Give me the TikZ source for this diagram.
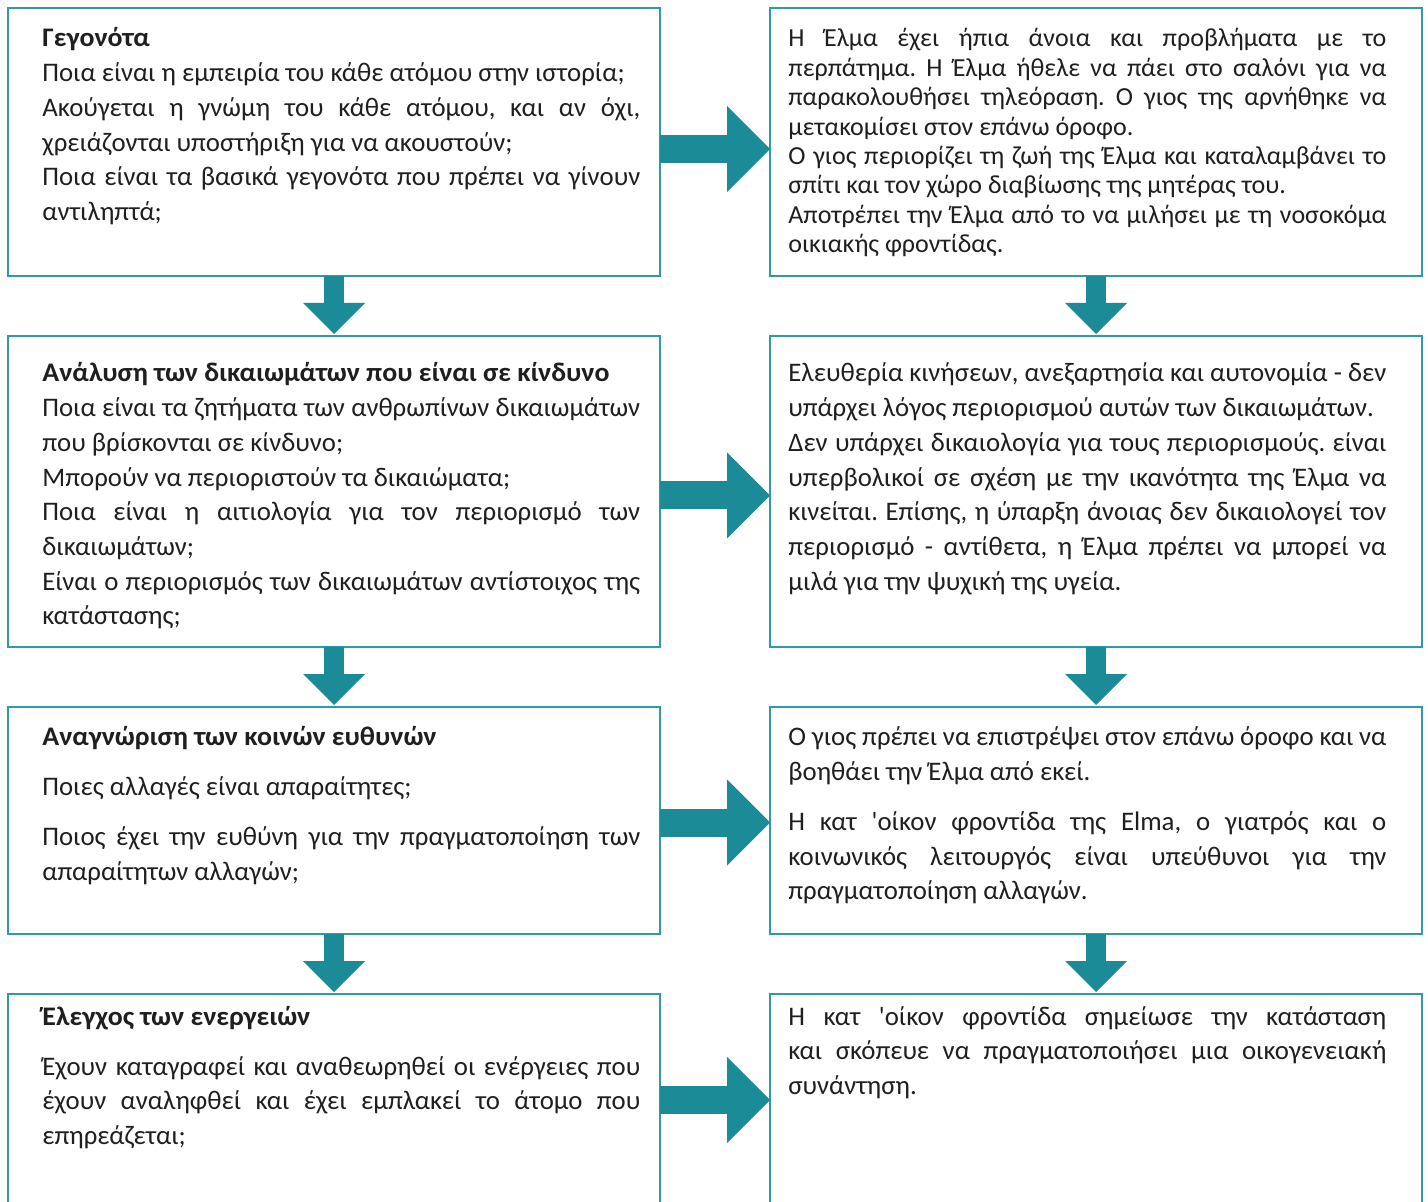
\documentclass[tikz,border=0pt]{standalone}
\usepackage{fontspec}
\setmainfont[BoldFeatures={FakeStretch=1.04}]{Carlito}
\usepackage{xcolor}
\usepackage{tikz}
\usetikzlibrary{positioning,arrows.meta}

\definecolor{flowteal}{HTML}{1B8B98}
\definecolor{frameteal}{HTML}{2E9BA8}
\hyphenpenalty=10000
\exhyphenpenalty=10000
\frenchspacing

\begin{document}
\begin{tikzpicture}[
    node distance=30pt and 55pt,
    box/.style={draw=frameteal, line width=1pt, rectangle, minimum width=326pt, inner sep=0pt, outer sep=0pt},
    txt/.style={anchor=base west, inner sep=0pt, text width=299pt, align=justify, text=black!88, font=\fontsize{13.4}{17.35}\selectfont},
    gaptxt/.style={txt, execute at begin node={\setlength{\parskip}{7.7pt}}},
    downflow/.style={flowteal, line width=10pt, -{Triangle[width=31pt, length=15.5pt, line width=0pt]}, shorten >=1pt},
    sideflow/.style={flowteal, line width=14pt, -{Triangle[width=43pt, length=21.5pt, line width=0pt]}}
]
    \useasboundingbox (0,0) rectangle (714pt,-601pt);

    \node[box, minimum height=134pt, anchor=north west] (facts) at (4pt,-4pt) {};
    \node[box, minimum height=134pt, right=of facts] (case) {};
    \node[box, minimum height=155.5pt, below=of facts] (rights) {};
    \node[box, minimum height=155.5pt, right=of rights] (caserights) {};
    \node[box, minimum height=113.5pt, below=of rights] (duties) {};
    \node[box, minimum height=113.5pt, right=of duties] (caseduties) {};
    \node[box, minimum height=120pt, below=of duties] (review) {};
    \node[box, minimum height=120pt, right=of review] (casereview) {};

    \node[txt] (factstext) at ([xshift=17pt, yshift=-19.5pt]facts.north west) {\textbf{Γεγονότα}\par
        Ποια είναι η εμπειρία του κάθε ατόμου στην ιστορία;\par
        Ακούγεται η γνώμη του κάθε ατόμου, και αν όχι, \linebreak χρειάζονται υποστήριξη για να ακουστούν;\par
        Ποια είναι τα βασικά γεγονότα που πρέπει να γίνουν \linebreak αντιληπτά;};
    \node[txt, font=\fontsize{13}{14.7}\selectfont] (casetext) at ([xshift=9pt, yshift=-19.5pt]case.north west) {Η Έλμα έχει ήπια άνοια και προβλήματα με το \linebreak περπάτημα. Η Έλμα ήθελε να πάει στο σαλόνι για να \linebreak παρακολουθήσει τηλεόραση. Ο γιος της αρνήθηκε να \linebreak μετακομίσει στον επάνω όροφο.\par
        Ο γιος περιορίζει τη ζωή της Έλμα και καταλαμβάνει το \linebreak σπίτι και τον χώρο διαβίωσης της μητέρας του.\par
        Αποτρέπει την Έλμα από το να μιλήσει με τη νοσοκόμα \linebreak οικιακής φροντίδας.};

    \node[txt] (rightstext) at ([xshift=17pt, yshift=-23pt]rights.north west) {\textbf{Ανάλυση των δικαιωμάτων που είναι σε κίνδυνο}\par
        Ποια είναι τα ζητήματα των ανθρωπίνων δικαιωμάτων \linebreak που βρίσκονται σε κίνδυνο;\par
        Μπορούν να περιοριστούν τα δικαιώματα;\par
        Ποια είναι η αιτιολογία για τον περιορισμό των \linebreak δικαιωμάτων;\par
        Είναι ο περιορισμός των δικαιωμάτων αντίστοιχος της \linebreak κατάστασης;};
    \node[txt] (caserightstext) at ([xshift=9pt, yshift=-23pt]caserights.north west) {Ελευθερία κινήσεων, ανεξαρτησία και αυτονομία - δεν \linebreak υπάρχει λόγος περιορισμού αυτών των δικαιωμάτων.\par
        Δεν υπάρχει δικαιολογία για τους περιορισμούς. είναι \linebreak υπερβολικοί σε σχέση με την ικανότητα της Έλμα να \linebreak κινείται. Επίσης, η ύπαρξη άνοιας δεν δικαιολογεί τον \linebreak περιορισμό - αντίθετα, η Έλμα πρέπει να μπορεί να \linebreak μιλά για την ψυχική της υγεία.};

    \node[gaptxt] (dutiestext) at ([xshift=17pt, yshift=-19.25pt]duties.north west) {\textbf{Αναγνώριση των κοινών ευθυνών}\par
        Ποιες αλλαγές είναι απαραίτητες;\par
        Ποιος έχει την ευθύνη για την πραγματοποίηση των \linebreak απαραίτητων αλλαγών;};
    \node[gaptxt] (casedutiestext) at ([xshift=9pt, yshift=-19.25pt]caseduties.north west) {Ο γιος πρέπει να επιστρέψει στον επάνω όροφο και να \linebreak βοηθάει την Έλμα από εκεί.\par
        Η κατ \textquotesingle οίκον φροντίδα της Elma, ο γιατρός και ο \linebreak κοινωνικός λειτουργός είναι υπεύθυνοι για την \linebreak πραγματοποίηση αλλαγών.};

    \node[gaptxt] (reviewtext) at ([xshift=17pt, yshift=-15.5pt]review.north west) {\textbf{Έλεγχος των ενεργειών}\par
        Έχουν καταγραφεί και αναθεωρηθεί οι ενέργειες που \linebreak έχουν αναληφθεί και έχει εμπλακεί το άτομο που \linebreak επηρεάζεται;};
    \node[gaptxt] (casereviewtext) at ([xshift=9pt, yshift=-15.5pt]casereview.north west) {Η κατ \textquotesingle οίκον φροντίδα σημείωσε την κατάσταση \linebreak και σκόπευε να πραγματοποιήσει μια οικογενειακή \linebreak συνάντηση.};

    \draw[downflow] (facts) -- (rights);
    \draw[downflow] (rights) -- (duties);
    \draw[downflow] (duties) -- (review);
    \draw[downflow] (case) -- (caserights);
    \draw[downflow] (caserights) -- (caseduties);
    \draw[downflow] (caseduties) -- (casereview);

    \draw[sideflow] ([yshift=-3.5pt]facts.east) -- ([yshift=-3.5pt]case.west);
    \draw[sideflow] ([yshift=-2pt]rights.east) -- ([yshift=-2pt]caserights.west);
    \draw[sideflow] ([yshift=-1pt]duties.east) -- ([yshift=-1pt]caseduties.west);
    \draw[sideflow] ([yshift=7pt]review.east) -- ([yshift=7pt]casereview.west);
\end{tikzpicture}
\end{document}
